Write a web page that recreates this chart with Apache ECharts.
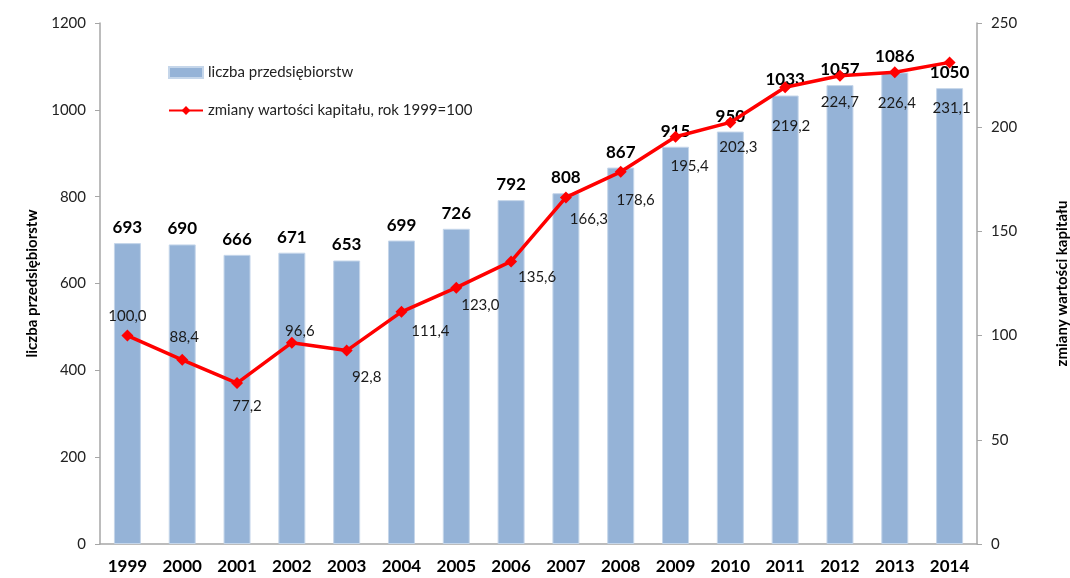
<!DOCTYPE html>
<html>
<head>
<meta charset="utf-8">
<script src="https://cdn.jsdelivr.net/npm/echarts@6/dist/echarts.min.js"></script>
<style>
    html, body {margin: 0; padding: 0; background: #fff;}
    #chart {width: 1070px; height: 578px;}
</style>
</head>
<body>
<div id="chart"></div>
<script>
// dane
const years = ['1999', '2000', '2001', '2002', '2003', '2004', '2005', '2006',
    '2007', '2008', '2009', '2010', '2011', '2012', '2013', '2014']
const firms = [693, 690, 666, 671, 653, 699, 726, 792, 808, 867, 915, 950, 1033, 1057, 1086, 1050]
const capital = [100.0, 88.4, 77.2, 96.6, 92.8, 111.4, 123.0, 135.6, 166.3, 178.6, 195.4, 202.3, 219.2, 224.7, 226.4, 231.1]
const leftTicks = [0, 200, 400, 600, 800, 1000, 1200]
const rightTicks = [0, 50, 100, 150, 200, 250]

// przesunięcia etykiet linii względem punktu
const capitalLabelOffsets = [
    [0, -19], [2, -23], [10, 23], [8, -12], [20, 27], [29, 19], [24, 17], [26, 16],
    [23, 22], [15, 28], [14, 29], [8, 25], [6, 39], [0, 26], [2, 31], [2, 46]
]

const font = 'Lato'
const axisColor = '#a6a6a6'

const chart = echarts.init(document.getElementById('chart'), null, {renderer: 'canvas'})

chart.setOption({
    animation: false,
    textStyle: {fontFamily: font},
    grid: {left: 100, right: 93, top: 23, bottom: 34, outerBoundsMode: 'none', containLabel: false},
    legend: {
        left: 163,
        top: 60,
        orient: 'vertical',
        itemGap: 23,
        itemWidth: 34,
        itemHeight: 11,
        textStyle: {fontFamily: font, fontSize: 15, color: '#222'},
        data: [
            {name: 'liczba przedsiębiorstw', icon: 'rect'},
            {name: 'zmiany wartości kapitału, rok 1999=100'}
        ]
    },
    xAxis: {
        type: 'category',
        data: years,
        axisLine: {lineStyle: {color: axisColor, width: 1.5}},
        axisTick: {length: 5, lineStyle: {color: axisColor}},
        axisLabel: {fontFamily: font, fontWeight: 'bold', fontSize: 17, color: '#000', margin: 14}
    },
    yAxis: [
        {
            type: 'value',
            min: leftTicks[0],
            max: leftTicks[leftTicks.length - 1],
            interval: leftTicks[1] - leftTicks[0],
            name: 'liczba przedsiębiorstw',
            nameLocation: 'middle',
            nameRotate: 90,
            nameGap: 60,
            nameTextStyle: {fontFamily: font, fontWeight: 'bold', fontSize: 15, color: '#000'},
            axisLine: {show: true, lineStyle: {color: axisColor, width: 1.5}},
            axisTick: {show: true, length: 5, lineStyle: {color: axisColor}},
            axisLabel: {fontFamily: font, fontSize: 15, color: '#222', margin: 14, formatter: v => String(v)},
            splitLine: {show: false}
        },
        {
            type: 'value',
            min: rightTicks[0],
            max: rightTicks[rightTicks.length - 1],
            interval: rightTicks[1] - rightTicks[0],
            name: 'zmiany wartości kapitału',
            nameLocation: 'middle',
            nameRotate: 90,
            nameGap: 78,
            nameTextStyle: {fontFamily: font, fontWeight: 'bold', fontSize: 15, color: '#000'},
            axisLine: {show: true, lineStyle: {color: axisColor, width: 1.5}},
            axisTick: {show: true, length: 5, lineStyle: {color: axisColor}},
            axisLabel: {fontFamily: font, fontSize: 15, color: '#222', margin: 14, formatter: v => String(v)},
            splitLine: {show: false}
        }
    ],
    series: [
        {
            name: 'liczba przedsiębiorstw',
            type: 'bar',
            yAxisIndex: 0,
            data: firms,
            barWidth: 27,
            itemStyle: {color: '#95b3d7', borderColor: '#c5d6ea', borderWidth: 1},
            label: {
                show: true,
                position: 'top',
                distance: 7,
                fontFamily: font,
                fontWeight: 'bold',
                fontSize: 17,
                color: '#000'
            },
            z: 1
        },
        {
            name: 'zmiany wartości kapitału, rok 1999=100',
            type: 'line',
            yAxisIndex: 1,
            data: capital.map((v, i) => ({
                value: v,
                label: {offset: capitalLabelOffsets[i]}
            })),
            symbol: 'diamond',
            symbolSize: 12,
            lineStyle: {color: '#ff0000', width: 3.5},
            itemStyle: {color: '#ff0000'},
            label: {
                show: true,
                position: 'inside',
                fontFamily: font,
                fontSize: 15,
                color: '#1a1a1a',
                formatter: p => p.value.toFixed(1).replace('.', ',')
            },
            z: 3
        }
    ]
})
</script>
</body>
</html>
